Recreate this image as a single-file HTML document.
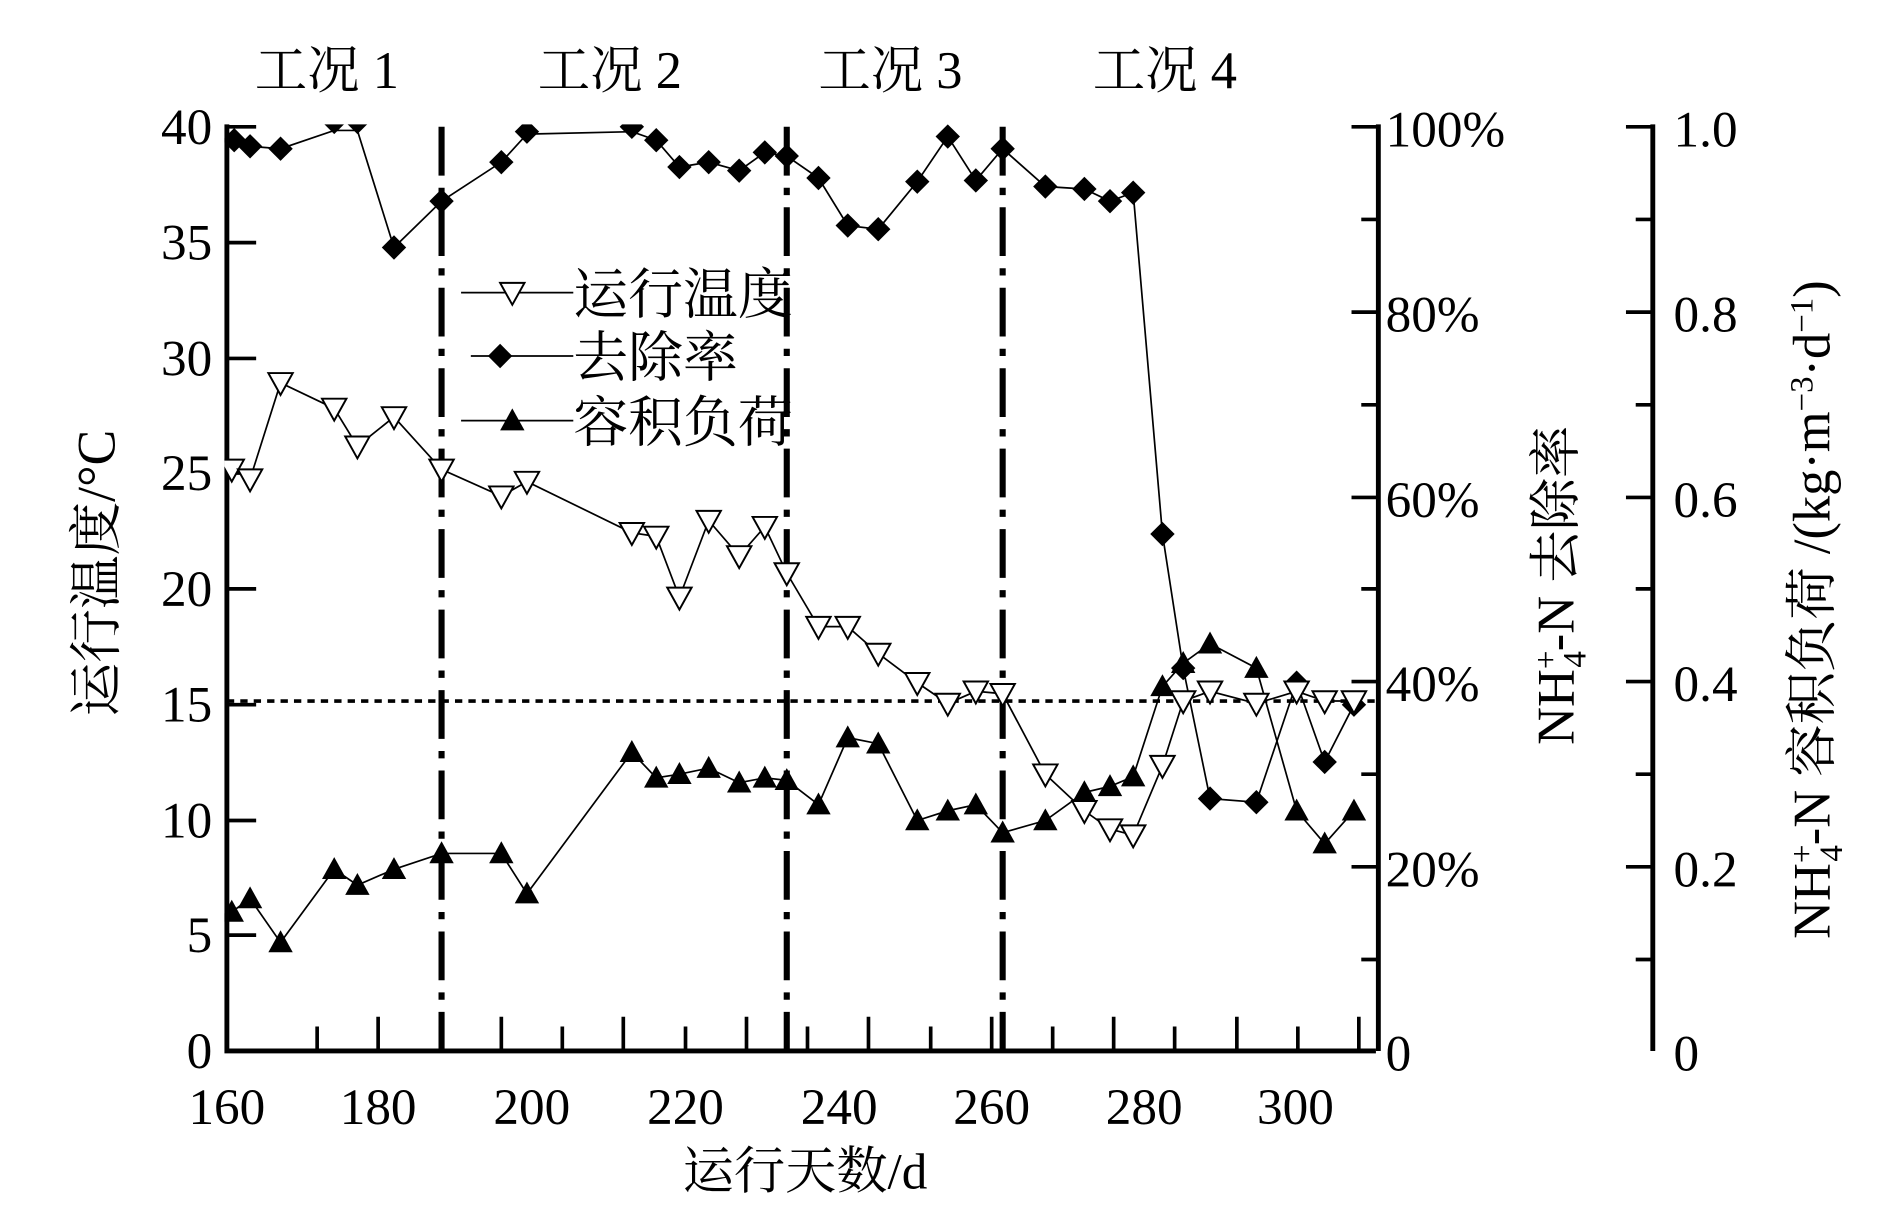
<!DOCTYPE html>
<html><head><meta charset="utf-8"><style>
html,body{margin:0;padding:0;background:#fff;}
svg{display:block;}
text{font-family:"Liberation Serif","Noto Serif CJK SC",serif;fill:#000;}
</style></head><body>
<svg width="1887" height="1207" viewBox="0 0 1547 990" preserveAspectRatio="none" xmlns="http://www.w3.org/2000/svg">
<defs>
<clipPath id="pc"><rect x="184" y="102" width="944" height="762"/></clipPath>
<symbol id="tri" overflow="visible"><path d="M-10,-8 L10,-8 L0,10 Z" fill="#fff" stroke="#000" stroke-width="1.6"/></symbol>
<symbol id="dia" overflow="visible"><path d="M0,-10 L10,0 L0,10 L-10,0 Z" fill="#000"/></symbol>
<symbol id="up" overflow="visible"><path d="M0,-10 L10,8 L-10,8 Z" fill="#000"/></symbol>
</defs>
<g font-size="43" text-anchor="middle">
<text x="268" y="72">工况 1</text>
<text x="500" y="72">工况 2</text>
<text x="730" y="72">工况 3</text>
<text x="955" y="72">工况 4</text>
</g>
<g stroke="#000" fill="none">
<path d="M186,102 V862 H1128" stroke-width="4"/>
<path d="M1130,102 V862" stroke-width="4"/>
<path d="M1355,102 V862" stroke-width="4"/>
<g stroke-width="3">
<path d="M186,104 h24 M186,199 h24 M186,294 h24 M186,388 h24 M186,483 h24 M186,578 h24 M186,673 h24 M186,767 h24"/>
<path d="M1130,104 h-22 M1130,180 h-14 M1130,256 h-22 M1130,332 h-14 M1130,408 h-22 M1130,483 h-14 M1130,559 h-22 M1130,635 h-14 M1130,711 h-22 M1130,787 h-14"/>
<path d="M1355,104 h-22 M1355,180 h-14 M1355,256 h-22 M1355,332 h-14 M1355,408 h-22 M1355,483 h-14 M1355,559 h-22 M1355,635 h-14 M1355,711 h-22 M1355,787 h-14"/>
<path d="M260,862 v-20 M310,862 v-28 M361,862 v-20 M411,862 v-28 M461,862 v-20 M511,862 v-28 M562,862 v-20 M612,862 v-28 M662,862 v-20 M712,862 v-28 M763,862 v-20 M813,862 v-28 M863,862 v-20 M913,862 v-28 M963,862 v-20 M1014,862 v-28 M1064,862 v-20 M1114,862 v-28"/>
</g>
</g>
<g font-size="42" text-anchor="end">
<text x="174" y="118">40</text><text x="174" y="213">35</text><text x="174" y="308">30</text><text x="174" y="402">25</text>
<text x="174" y="497">20</text><text x="174" y="592">15</text><text x="174" y="687">10</text><text x="174" y="781">5</text><text x="174" y="876">0</text>
</g>
<g font-size="42">
<text x="1136" y="120">100%</text><text x="1136" y="272">80%</text><text x="1136" y="424">60%</text><text x="1136" y="575">40%</text><text x="1136" y="727">20%</text><text x="1136" y="878">0</text>
<text x="1372" y="120">1.0</text><text x="1372" y="272">0.8</text><text x="1372" y="424">0.6</text><text x="1372" y="575">0.4</text><text x="1372" y="727">0.2</text><text x="1372" y="878">0</text>
</g>
<g font-size="42" text-anchor="middle">
<text x="186" y="922">160</text><text x="310" y="922">180</text><text x="436" y="922">200</text><text x="562" y="922">220</text><text x="688" y="922">240</text><text x="813" y="922">260</text><text x="938" y="922">280</text><text x="1062" y="922">300</text>
<text x="660" y="975">运行天数/d</text>
</g>
<text font-size="44" text-anchor="middle" transform="translate(94,470) rotate(-90)">运行温度/°C</text>
<text font-size="43" text-anchor="middle" transform="translate(1290,480) rotate(-90)">NH<tspan font-size="27" dy="-14">+</tspan><tspan font-size="27" dx="-14" dy="24">4</tspan><tspan dy="-10">-N 去除率</tspan></text>
<text font-size="43" text-anchor="middle" transform="translate(1500,500) rotate(-90)">NH<tspan font-size="27" dy="-14">+</tspan><tspan font-size="27" dx="-14" dy="24">4</tspan><tspan dy="-10">-N 容积负荷 /(kg·m</tspan><tspan font-size="27" dy="-14">−3</tspan><tspan dy="14">·d</tspan><tspan font-size="27" dy="-14">−1</tspan><tspan dy="14">)</tspan></text>
<path d="M186,575 H1128" stroke="#000" stroke-width="3" stroke-dasharray="6,5" fill="none"/>
<g stroke="#000" stroke-width="5" fill="none" stroke-dasharray="40,10,6,10">
<path d="M362,104 V862"/><path d="M645,104 V862"/><path d="M822,104 V862"/>
</g>
<g clip-path="url(#pc)">
<polyline fill="none" stroke="#000" stroke-width="1.4" points="192,115 205,120 230,122 274,107 293,107 323,203 362,165 411,133 432,110 518,108 538,115 557,137 581,133 606,140 627,125 645,128 671,146 695,185 720,188 752,149 777,112 800,148 822,122 857,153 889,155 910,165 929,158 953,438 970,548 992,655 1030,658 1063,560 1086,625 1110,578"/>
<g>
<use href="#dia" x="192" y="115"/><use href="#dia" x="205" y="120"/><use href="#dia" x="230" y="122"/><use href="#dia" x="274" y="100"/><use href="#dia" x="293" y="100"/><use href="#dia" x="323" y="203"/><use href="#dia" x="362" y="165"/><use href="#dia" x="411" y="133"/><use href="#dia" x="432" y="108"/><use href="#dia" x="518" y="104"/><use href="#dia" x="538" y="115"/><use href="#dia" x="557" y="137"/><use href="#dia" x="581" y="133"/><use href="#dia" x="606" y="140"/><use href="#dia" x="627" y="125"/><use href="#dia" x="645" y="128"/><use href="#dia" x="671" y="146"/><use href="#dia" x="695" y="185"/><use href="#dia" x="720" y="188"/><use href="#dia" x="752" y="149"/><use href="#dia" x="777" y="112"/><use href="#dia" x="800" y="148"/><use href="#dia" x="822" y="122"/><use href="#dia" x="857" y="153"/><use href="#dia" x="889" y="155"/><use href="#dia" x="910" y="165"/><use href="#dia" x="929" y="158"/><use href="#dia" x="953" y="438"/><use href="#dia" x="970" y="548"/><use href="#dia" x="992" y="655"/><use href="#dia" x="1030" y="658"/><use href="#dia" x="1063" y="560"/><use href="#dia" x="1086" y="625"/><use href="#dia" x="1110" y="578"/>
</g>
<polyline fill="none" stroke="#000" stroke-width="1.4" points="190,748 205,737 230,773 274,713 293,726 323,713 362,700 411,700 432,733 518,617 538,638 557,635 581,630 606,642 627,638 645,640 671,660 695,605 720,610 752,673 777,665 800,660 822,683 857,673 889,650 910,645 929,637 953,563 970,544 992,528 1030,548 1063,665 1086,692 1110,665"/>
<g>
<use href="#up" x="190" y="748"/><use href="#up" x="205" y="737"/><use href="#up" x="230" y="773"/><use href="#up" x="274" y="713"/><use href="#up" x="293" y="726"/><use href="#up" x="323" y="713"/><use href="#up" x="362" y="700"/><use href="#up" x="411" y="700"/><use href="#up" x="432" y="733"/><use href="#up" x="518" y="617"/><use href="#up" x="538" y="638"/><use href="#up" x="557" y="635"/><use href="#up" x="581" y="630"/><use href="#up" x="606" y="642"/><use href="#up" x="627" y="638"/><use href="#up" x="645" y="640"/><use href="#up" x="671" y="660"/><use href="#up" x="695" y="605"/><use href="#up" x="720" y="610"/><use href="#up" x="752" y="673"/><use href="#up" x="777" y="665"/><use href="#up" x="800" y="660"/><use href="#up" x="822" y="683"/><use href="#up" x="857" y="673"/><use href="#up" x="889" y="650"/><use href="#up" x="910" y="645"/><use href="#up" x="929" y="637"/><use href="#up" x="953" y="563"/><use href="#up" x="970" y="544"/><use href="#up" x="992" y="528"/><use href="#up" x="1030" y="548"/><use href="#up" x="1063" y="665"/><use href="#up" x="1086" y="692"/><use href="#up" x="1110" y="665"/>
</g>
<polyline fill="none" stroke="#000" stroke-width="1.4" points="190,385 205,393 230,314 274,335 293,366 323,342 362,385 411,407 432,395 518,437 538,440 557,490 581,427 606,456 627,432 645,470 671,514 695,514 720,536 752,560 777,577 800,567 822,569 857,635 889,665 910,680 929,685 953,628 970,575 992,567 1030,577 1063,567 1086,575 1110,575"/>
<g>
<use href="#tri" x="190" y="385"/><use href="#tri" x="205" y="393"/><use href="#tri" x="230" y="314"/><use href="#tri" x="274" y="335"/><use href="#tri" x="293" y="366"/><use href="#tri" x="323" y="342"/><use href="#tri" x="362" y="385"/><use href="#tri" x="411" y="407"/><use href="#tri" x="432" y="395"/><use href="#tri" x="518" y="437"/><use href="#tri" x="538" y="440"/><use href="#tri" x="557" y="490"/><use href="#tri" x="581" y="427"/><use href="#tri" x="606" y="456"/><use href="#tri" x="627" y="432"/><use href="#tri" x="645" y="470"/><use href="#tri" x="671" y="514"/><use href="#tri" x="695" y="514"/><use href="#tri" x="720" y="536"/><use href="#tri" x="752" y="560"/><use href="#tri" x="777" y="577"/><use href="#tri" x="800" y="567"/><use href="#tri" x="822" y="569"/><use href="#tri" x="857" y="635"/><use href="#tri" x="889" y="665"/><use href="#tri" x="910" y="680"/><use href="#tri" x="929" y="685"/><use href="#tri" x="953" y="628"/><use href="#tri" x="970" y="575"/><use href="#tri" x="992" y="567"/><use href="#tri" x="1030" y="577"/><use href="#tri" x="1063" y="567"/><use href="#tri" x="1086" y="575"/><use href="#tri" x="1110" y="575"/>
</g>
</g>
<g stroke="#000" stroke-width="1.4">
<path d="M378,240 H470"/><path d="M386,292 H470"/><path d="M378,345 H470"/>
</g>
<use href="#tri" x="420" y="240"/><use href="#dia" x="410" y="292"/><use href="#up" x="420" y="345"/>
<g font-size="45">
<text x="470" y="257">运行温度</text>
<text x="470" y="309">去除率</text>
<text x="470" y="362">容积负荷</text>
</g>
</svg>
</body></html>
